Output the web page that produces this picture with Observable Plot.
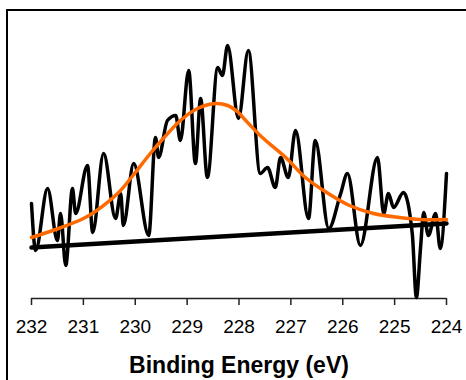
<!DOCTYPE html>
<html>
<head>
<meta charset="utf-8">
<script src="https://cdn.jsdelivr.net/npm/d3@7"></script>
<script src="https://cdn.jsdelivr.net/npm/@observablehq/plot@0.6"></script>
<style>
  html, body { margin: 0; padding: 0; background: #fff; overflow: hidden; }
  #wrap { position: relative; width: 466px; height: 380px; }
  #border { position: absolute; left: 6px; top: 9px; width: 600px; height: 600px; border-left: 2px solid #000; border-top: 2px solid #000; box-sizing: border-box; }
  #chart { position: absolute; left: 0; top: 0; }
</style>
</head>
<body>
<div id="wrap"><div id="border"></div><div id="chart"></div></div>
<script>
// Measured spectrum (binding energy in eV, intensity in a.u.)
const spectrumEnergy = [232.0, 231.92, 231.69, 231.50, 231.44, 231.34, 231.21, 231.15, 230.92, 230.82, 230.61, 230.38, 230.28, 230.23, 230.03, 229.74, 229.61, 229.55, 229.38, 229.22, 229.13, 228.97, 228.84, 228.74, 228.61, 228.41, 228.32, 228.22, 228.01, 227.82, 227.59, 227.45, 227.30, 227.20, 227.05, 226.91, 226.66, 226.53, 226.27, 226.04, 225.91, 225.66, 225.33, 225.21, 225.12, 225.02, 224.83, 224.66, 224.58, 224.50, 224.44, 224.35, 224.21, 224.12, 224.0];
const spectrumIntensity = [95, 48, 110, 58, 85, 33, 110, 85, 133, 66, 145, 80, 105, 73, 135, 63, 161, 141, 178, 183, 158, 228, 135, 200, 121, 231, 223, 253, 180, 248, 125, 131, 111, 141, 121, 168, 80, 158, 70, 105, 125, 53, 141, 85, 105, 91, 106, 65, 1, 51, 86, 63, 85, 50, 125];

// Fitted peak (envelope incl. background)
const fitEnergy = [232.0, 231.48, 231.00, 230.77, 230.32, 230.03, 229.71, 229.46, 229.13, 228.80, 228.45, 228.22, 228.01, 227.87, 227.55, 227.10, 226.72, 226.37, 225.87, 225.41, 224.91, 224.50, 224.0];
const fitIntensity = [61, 70, 80, 87, 106, 124, 145, 160, 178, 190, 195, 193, 186, 178, 161, 141, 121, 108, 93, 85, 81, 79, 79];

// Linear background
const bgEnergy = [232.0, 224.0];
const bgIntensity = [51, 75];

// Axis ticks
const xTicks = [232, 231, 230, 229, 228, 227, 226, 225, 224];
const xTitle = "Binding Energy (eV)";

const spectrum = spectrumEnergy.map((e, i) => ({e, v: spectrumIntensity[i]}));
const fit = fitEnergy.map((e, i) => ({e, v: fitIntensity[i]}));
const bg = bgEnergy.map((e, i) => ({e, v: bgIntensity[i]}));

const chart = Plot.plot({
  width: 466,
  height: 380,
  marginLeft: 31,
  marginRight: 20,
  marginTop: 10,
  marginBottom: 82,
  style: { fontFamily: "'Liberation Sans', Arial, sans-serif", background: "transparent", overflow: "visible" },
  x: { domain: [232, 224], ticks: xTicks, label: null },
  y: { domain: [0, 288], axis: null },
  marks: [
    Plot.ruleY([0], { stroke: "#222", strokeWidth: 1.5 }),
    Plot.line(bg, { x: "e", y: "v", stroke: "#000", strokeWidth: 4.5 }),
    Plot.line(spectrum, { x: "e", y: "v", stroke: "#000", strokeWidth: 3.5, curve: "monotone-x" }),
    Plot.line(fit, { x: "e", y: "v", stroke: "#ff6a00", strokeWidth: 3.5, curve: "catmull-rom" }),
    Plot.axisX({ ticks: xTicks, tickSize: 7, tickPadding: 14, tickFormat: d => String(d), fontSize: 19, stroke: "#222", strokeWidth: 1.5, label: null }),
    Plot.text([xTitle], { frameAnchor: "bottom", dy: 67, fontWeight: "bold", fontSize: 23, lineAnchor: "middle", fill: "#000" })
  ]
});
document.getElementById("chart").appendChild(chart);
</script>
</body>
</html>
